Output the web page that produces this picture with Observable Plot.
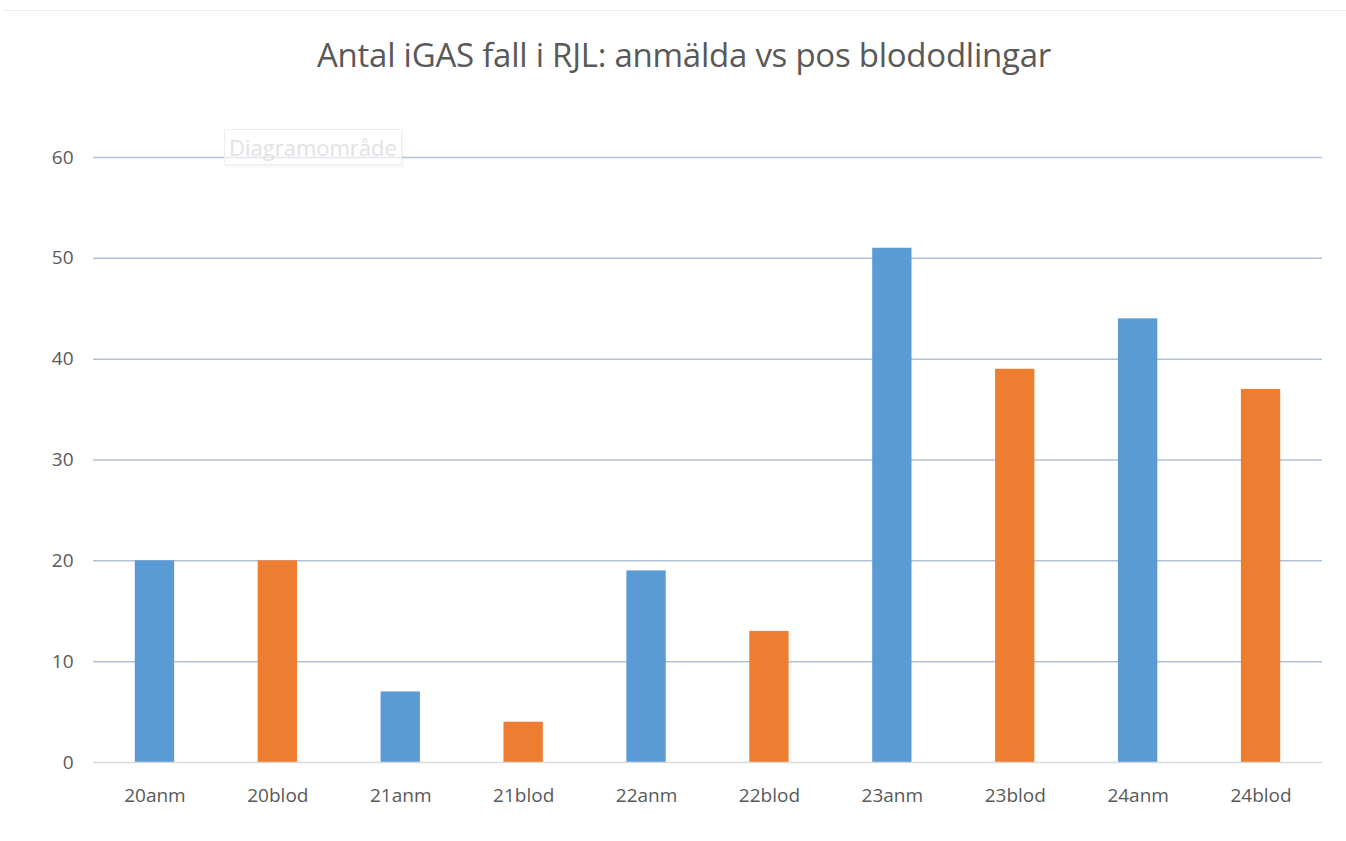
<!DOCTYPE html>
<html><head><meta charset="utf-8">
<script src="https://cdn.jsdelivr.net/npm/d3@7"></script>
<script src="https://cdn.jsdelivr.net/npm/@observablehq/plot@0.6"></script>
<style>
body{margin:0;background:#fff;font-family:"Open Sans",sans-serif;}
#wrap{position:relative;width:1346px;height:841px;overflow:hidden;}
#topline{position:absolute;left:4px;right:0;top:10px;height:1px;background:#ececec;}
#title{position:absolute;left:11px;width:1346px;top:32px;text-align:center;font-size:33px;color:#595959;letter-spacing:-0.25px;}
#chart{position:absolute;left:0;top:110px;}
#tip{position:absolute;left:224px;top:129px;padding:2px 4px;font-size:22px;line-height:30px;color:#e2e2e2;border:1px solid #eeeeee;background:rgba(255,255,255,0.6);box-shadow:1px 2px 3px rgba(0,0,0,0.05);}
</style></head>
<body><div id="wrap"><div id="topline"></div><div id="title">Antal iGAS fall i RJL: anmälda vs pos blododlingar</div><div id="chart"></div><div id="tip">Diagramområde</div></div>
<script>
const categories = ["20anm","20blod","21anm","21blod","22anm","22blod","23anm","23blod","24anm","24blod"];
const values = [20,20,7,4,19,13,51,39,44,37];
const series = ["anm","blod","anm","blod","anm","blod","anm","blod","anm","blod"];
const yTicks = [0,10,20,30,40,50,60];
const colors = {anm:"#5b9bd5", blod:"#ed7d31"};
const data = categories.map((c,i)=>({cat:c, value:values[i], s:series[i]}));
const chart = Plot.plot({
  width:1346, height:731,
  marginTop:47, marginBottom:79, marginLeft:93, marginRight:24,
  style:{fontFamily:"Open Sans, sans-serif", fontSize:"19px", color:"#595959", background:"transparent"},
  x:{domain:categories, paddingInner:0.68, paddingOuter:0.34, round:false, label:null, tickSize:0, tickPadding:26},
  y:{domain:[0,60], ticks:yTicks, label:null, tickSize:0, tickPadding:20},
  color:{domain:["anm","blod"], range:[colors.anm, colors.blod]},
  marks:[
    Plot.ruleY(yTicks.filter(d=>d>0), {stroke:"#b4c0d8", strokeWidth:1.5}),
    Plot.barY(data, {x:"cat", y:"value", fill:"s"}),
    Plot.ruleY([0], {stroke:"#d9d9d9", strokeWidth:1.5})
  ]
});
document.getElementById("chart").appendChild(chart);
</script></body></html>
